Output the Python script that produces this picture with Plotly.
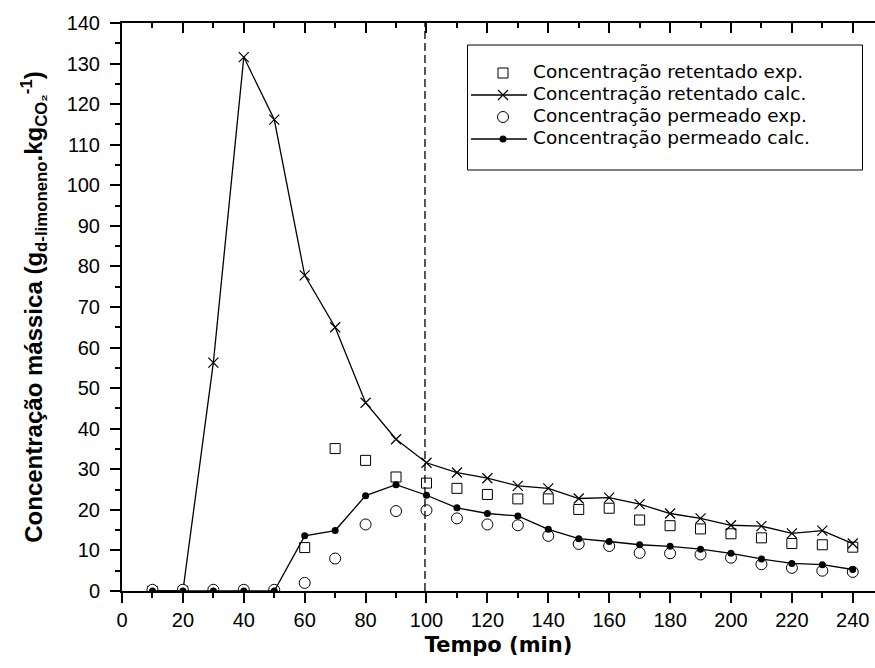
import plotly.graph_objects as go

# ---- data ----
t_all = [10, 20, 30, 40, 50, 60, 70, 80, 90, 100, 110, 120, 130, 140, 150, 160,
         170, 180, 190, 200, 210, 220, 230, 240]
t_ret_exp = [60, 70, 80, 90, 100, 110, 120, 130, 140, 150, 160, 170, 180, 190,
             200, 210, 220, 230, 240]
ret_exp = [10.7, 35.1, 32.2, 28.1, 26.6, 25.3, 23.8, 22.7, 22.7, 20.1, 20.4, 17.5,
           16.1, 15.3, 14.1, 13.1, 11.7, 11.4, 10.8]
ret_calc = [0, 0, 56.3, 131.6, 116.2, 77.8, 65.0, 46.4, 37.4, 31.6, 29.2, 27.8,
            25.9, 25.3, 22.8, 23.0, 21.4, 19.1, 17.9, 16.2, 16.0, 14.2, 14.9, 11.7]
perm_exp = [0.3, 0.3, 0.3, 0.3, 0.3, 2.0, 8.0, 16.4, 19.7, 19.9, 17.9, 16.4, 16.2,
            13.6, 11.6, 11.1, 9.4, 9.3, 9.0, 8.2, 6.6, 5.7, 5.0, 4.7]
perm_calc = [0, 0, 0, 0, 0, 13.6, 14.9, 23.5, 26.2, 23.6, 20.5, 19.1, 18.5, 15.2,
             12.9, 12.2, 11.4, 11.0, 10.3, 9.3, 7.9, 6.8, 6.5, 5.3]
names = ["Concentração retentado exp.", "Concentração retentado calc.",
         "Concentração permeado exp.", "Concentração permeado calc."]
vline_x = 99.5

FONT = "Arial, Liberation Sans, sans-serif"
WIDE = "DejaVu Sans, Arial, sans-serif"

# ---- styles ----
sq_marker = dict(symbol="square", size=10, color="white", line=dict(color="black", width=1))
x_marker = dict(symbol="x-thin", size=10, line=dict(color="black", width=1.2))
oc_marker = dict(symbol="circle", size=11, color="white", line=dict(color="black", width=1))
dot_marker = dict(symbol="circle", size=7, color="black")
data_line = dict(color="black", width=1.3)

fig = go.Figure()
fig.add_trace(go.Scatter(x=t_ret_exp, y=ret_exp, mode="markers", name=names[0],
                         marker=sq_marker, showlegend=False))
fig.add_trace(go.Scatter(x=t_all, y=ret_calc, mode="lines+markers", name=names[1],
                         line=data_line, marker=x_marker, showlegend=False))
fig.add_trace(go.Scatter(x=t_all, y=perm_exp, mode="markers", name=names[2],
                         marker=oc_marker, showlegend=False))
fig.add_trace(go.Scatter(x=t_all, y=perm_calc, mode="lines+markers", name=names[3],
                         line=data_line, marker=dot_marker, showlegend=False))

fig.add_shape(type="line", x0=vline_x, x1=vline_x, y0=0, y1=140, xref="x", yref="y",
              line=dict(color="black", width=1.3, dash="8px,4px"))

# ---- manual legend on a pixel overlay axis (plot-area pixels, origin bottom-left) ----
PW, PH = 753, 568
leg_rows = [518, 496, 474, 452]          # row centres (px from plot bottom)
sym_x, line_x0, line_x1, text_x = 381, 349, 405, 411
fig.add_shape(type="rect", xref="x3", yref="y3", x0=345.5, x1=740.5, y0=421, y1=546,
              line=dict(color="black", width=1), fillcolor="white", layer="below")
styles = [(sq_marker, False), (x_marker, True), (oc_marker, False), (dot_marker, True)]
for (mk, has_line), ry, nm in zip(styles, leg_rows, names):
    if has_line:
        fig.add_trace(go.Scatter(x=[line_x0, line_x1], y=[ry, ry], mode="lines",
                                 line=data_line, xaxis="x3", yaxis="y3",
                                 showlegend=False, hoverinfo="skip", cliponaxis=False))
    fig.add_trace(go.Scatter(x=[sym_x], y=[ry], mode="markers", marker=mk,
                             xaxis="x3", yaxis="y3", showlegend=False,
                             hoverinfo="skip", cliponaxis=False))
    fig.add_trace(go.Scatter(x=[text_x], y=[ry], mode="text", text=[nm],
                             textposition="middle right",
                             textfont=dict(size=18.5, family=WIDE, color="black"),
                             xaxis="x3", yaxis="y3", showlegend=False,
                             hoverinfo="skip", cliponaxis=False))

xr = [0, 247.3]
fig.update_layout(
    width=875, height=668,
    margin=dict(l=122, r=0, t=23, b=77),
    plot_bgcolor="white", paper_bgcolor="white",
    font=dict(family=FONT, color="black", size=20),
    showlegend=False,
    xaxis=dict(range=xr, dtick=20, tick0=0, ticks="outside", ticklen=10, tickwidth=2,
               tickcolor="black", showline=True, linewidth=2, linecolor="black",
               showgrid=False, zeroline=False,
               minor=dict(dtick=10, ticks="outside", ticklen=5, tickwidth=2,
                          tickcolor="black"),
               tickfont=dict(size=20, family=FONT),
               title=dict(text="<b>Tempo (min)</b>", font=dict(size=21, family=WIDE),
                          standoff=7)),
    xaxis2=dict(range=xr, overlaying="x", side="top", anchor="y", dtick=20, tick0=0,
                ticks="inside", ticklen=10, tickwidth=2, tickcolor="black",
                showline=True, linewidth=2, linecolor="black", showticklabels=False,
                showgrid=False, zeroline=False,
                minor=dict(dtick=10, ticks="inside", ticklen=5, tickwidth=2,
                           tickcolor="black")),
    xaxis3=dict(range=[0, PW], overlaying="x", anchor="y3", visible=False,
                fixedrange=True),
    yaxis3=dict(range=[0, PH], overlaying="y", anchor="x3", visible=False,
                fixedrange=True),
    yaxis=dict(range=[0, 140], dtick=10, tick0=0, ticks="outside", ticklen=10,
               tickwidth=2, tickcolor="black", showline=True, linewidth=2,
               linecolor="black", showgrid=False, zeroline=False,
               ticklabelstandoff=6,
               minor=dict(dtick=5, ticks="outside", ticklen=5, tickwidth=2,
                          tickcolor="black"),
               tickfont=dict(size=20, family=FONT),
               title=dict(text="<b>Concentração mássica (g<sub>d-limoneno</sub>.kg<sub>CO₂</sub><sup>-1</sup>)</b>",
                          font=dict(size=24, family=FONT), standoff=17)),
)
fig.add_trace(go.Scatter(x=[], y=[], xaxis="x2", showlegend=False))

fig.write_html("out.html")
